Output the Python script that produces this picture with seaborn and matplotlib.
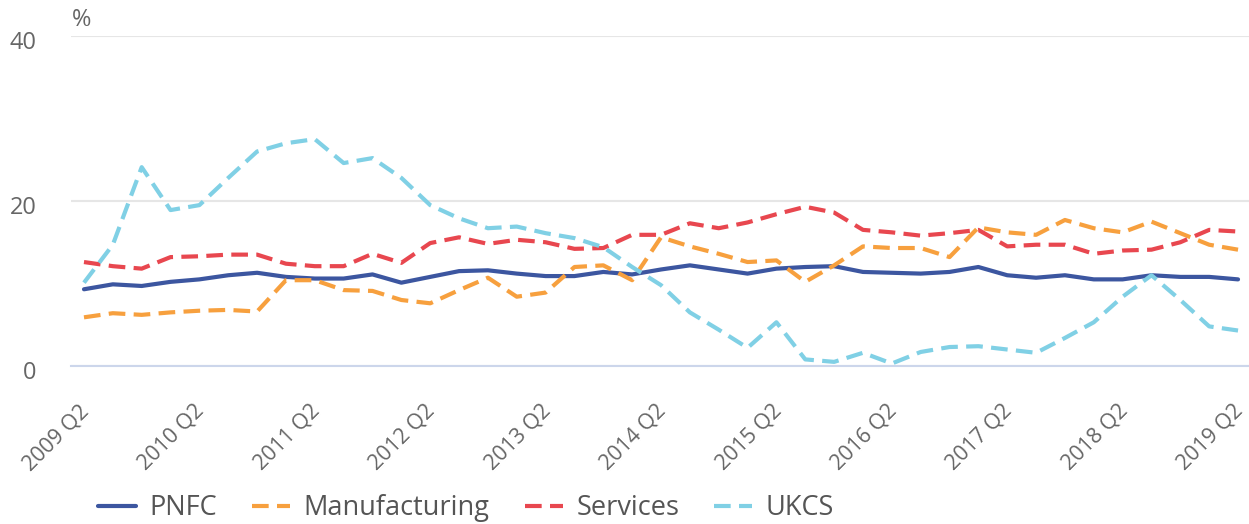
import numpy as np
import pandas as pd
import seaborn as sns
import matplotlib.pyplot as plt
from matplotlib.lines import Line2D
from matplotlib.transforms import ScaledTranslation


sns.set_style("white")
plt.rcParams['font.family'] = ['Open Sans', 'DejaVu Sans']

quarters = [f"{y} Q{q}" for y in range(2009, 2020) for q in range(1, 5)][1:42]

pnfc = [9.3, 9.9, 9.7, 10.2, 10.5, 11.0, 11.3, 10.8, 10.6, 10.6,
        11.1, 10.1, 10.8, 11.5, 11.6, 11.2, 10.9, 10.9, 11.4, 11.1,
        11.7, 12.2, 11.7, 11.2, 11.8, 12.0, 12.1, 11.4, 11.3, 11.2,
        11.4, 12.0, 11.0, 10.7, 11.0, 10.5, 10.5, 11.0, 10.8, 10.8, 10.5]
manufacturing = [5.9, 6.4, 6.2, 6.5, 6.7, 6.8, 6.6, 10.4, 10.4, 9.2,
                 9.1, 8.0, 7.6, 9.2, 10.7, 8.4, 8.9, 12.0, 12.2, 10.4,
                 15.6, 14.5, 13.6, 12.6, 12.8, 10.2, 12.2, 14.5, 14.3, 14.3,
                 13.2, 16.8, 16.2, 15.9, 17.7, 16.7, 16.2, 17.5, 16.1, 14.7, 14.1]
services = [12.6, 12.1, 11.8, 13.2, 13.3, 13.5, 13.5, 12.4, 12.1, 12.1,
            13.6, 12.5, 14.9, 15.6, 14.8, 15.3, 15.0, 14.2, 14.3, 15.9,
            15.9, 17.3, 16.7, 17.4, 18.4, 19.3, 18.6, 16.5, 16.2, 15.8,
            16.1, 16.5, 14.5, 14.7, 14.7, 13.6, 14.0, 14.1, 15.0, 16.5, 16.3]
ukcs = [10.1, 14.7, 24.1, 18.9, 19.5, 22.8, 26.0, 27.0, 27.5, 24.6,
        25.2, 22.8, 19.5, 17.9, 16.7, 16.9, 16.1, 15.5, 14.4, 12.0,
        9.8, 6.5, 4.4, 2.2, 5.3, 0.8, 0.5, 1.6, 0.3, 1.7,
        2.3, 2.4, 2.0, 1.6, 3.4, 5.3, 8.4, 11.0, 8.0, 4.8, 4.3]

series = ["PNFC", "Manufacturing", "Services", "UKCS"]
colors = {"PNFC": "#3c56a0", "Manufacturing": "#f7a03e",
          "Services": "#e8474f", "UKCS": "#80d0e5"}
dashes = {"PNFC": "", "Manufacturing": (4, 2), "Services": (4, 2), "UKCS": (4, 2)}

df = pd.DataFrame({"x": np.arange(len(quarters)), "PNFC": pnfc,
                   "Manufacturing": manufacturing, "Services": services, "UKCS": ukcs})
long = df.melt(id_vars="x", var_name="series", value_name="value")

fig = plt.figure(figsize=(12.49, 5.24), dpi=100)
ax = fig.add_axes([71 / 1249, 1 - 366 / 524, 1 - 71 / 1249, 330 / 524])

sns.lineplot(data=long, x="x", y="value", hue="series", style="series",
             hue_order=series, style_order=series, palette=colors,
             dashes=dashes, linewidth=3.0, legend=False, ax=ax)

ax.set_xlim(-0.45, 40.38)
ax.set_ylim(0, 40)
ax.set_xlabel("")
ax.set_ylabel("")

ax.set_yticks([0, 20, 40])
ax.set_yticklabels(["0", "20", "40"])
ax.yaxis.grid(True, color="#e6e6e6", linewidth=1.5)
ax.tick_params(axis="y", length=0, pad=25, labelsize=17, labelcolor="#666666")
shift = ScaledTranslation(0, -4 / 100, fig.dpi_scale_trans)
for lab in ax.get_yticklabels():
    lab.set_transform(lab.get_transform() + shift)

ticks = list(range(0, len(quarters), 4))
ax.set_xticks(ticks)
ax.set_xticklabels([quarters[i] for i in ticks], rotation=45, ha="right",
                   va="center_baseline", rotation_mode="anchor")
ax.tick_params(axis="x", length=10, width=1.5, color="#ccd6eb", pad=19,
               labelsize=15.5, labelcolor="#666666")

for s in ["top", "right", "left"]:
    ax.spines[s].set_visible(False)
ax.spines["bottom"].set_color("#ccd6eb")
ax.spines["bottom"].set_linewidth(1.5)

fig.text(72 / 1249, 1 - 20 / 524, "%", fontsize=17, color="#666666",
         ha="left", va="center")

handles = [Line2D([], [], color=colors[s], linewidth=3.0,
                  linestyle="-" if s == "PNFC" else (0, (4, 2)))
           for s in series]
fig.legend(handles, series, loc="center", ncol=4, frameon=False,
           bbox_to_anchor=(466 / 1249, 1 - 508 / 524), fontsize=19.5,
           labelcolor="#555555", handlelength=1.4, handletextpad=0.5,
           columnspacing=1.3)

fig.savefig("out.png", dpi=100)
